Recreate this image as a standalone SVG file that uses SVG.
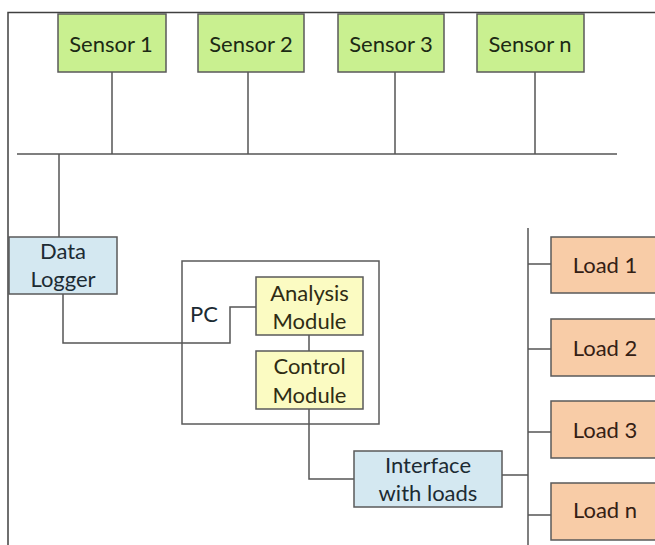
<svg xmlns="http://www.w3.org/2000/svg" width="655" height="545" viewBox="0 0 655 545">
<style>
  .box { stroke: #5a5a5a; stroke-width: 1.5; }
  .sensor { fill: #c9f090; }
  .blue { fill: #d4e8f1; }
  .yellow { fill: #fbfbc2; }
  .load { fill: #f8cca7; }
  .wire { fill: none; stroke: #555555; stroke-width: 1.5; }
  text { font-family: Lato, "Open Sans", "Liberation Sans", sans-serif; font-size: 22px; text-anchor: middle; }
  .tsensor { fill: #1c2a14; }
  .tblue { fill: #1c2b33; }
  .tyellow { fill: #2f2c14; }
  .tload { fill: #342014; }
</style>
<rect x="0" y="0" width="655" height="545" fill="#ffffff"/>
<rect id="frame" x="8" y="12.5" width="660" height="545" fill="none" stroke="#404040" stroke-width="1.5"/>

<g id="connectors" class="wire">
  <line x1="17" y1="154" x2="617" y2="154"/>
  <line x1="112" y1="72" x2="112" y2="154"/>
  <line x1="248" y1="72" x2="248" y2="154"/>
  <line x1="395" y1="72" x2="395" y2="154"/>
  <line x1="535" y1="72" x2="535" y2="154"/>
  <line x1="59" y1="154" x2="59" y2="237"/>
  <polyline points="63,294 63,343 230,343 230,307 256,307"/>
  <line x1="309" y1="335" x2="309" y2="351"/>
  <polyline points="309,409 309,479 354,479"/>
  <line x1="502" y1="475" x2="528" y2="475"/>
  <line x1="528" y1="228" x2="528" y2="545"/>
  <line x1="528" y1="264" x2="551" y2="264"/>
  <line x1="528" y1="349" x2="551" y2="349"/>
  <line x1="528" y1="432" x2="551" y2="432"/>
  <line x1="528" y1="515" x2="551" y2="515"/>
</g>

<g id="sensor1">
  <rect class="box sensor" x="58" y="14" width="108" height="58"/>
  <text class="tsensor" x="111" y="52">Sensor 1</text>
</g>
<g id="sensor2">
  <rect class="box sensor" x="198" y="14" width="106" height="58"/>
  <text class="tsensor" x="251" y="52">Sensor 2</text>
</g>
<g id="sensor3">
  <rect class="box sensor" x="338" y="14" width="106" height="58"/>
  <text class="tsensor" x="391" y="52">Sensor 3</text>
</g>
<g id="sensorn">
  <rect class="box sensor" x="477" y="14" width="107" height="58"/>
  <text class="tsensor" x="530" y="52">Sensor n</text>
</g>

<g id="datalogger">
  <rect class="box blue" x="9" y="237" width="108" height="57"/>
  <text class="tblue" x="63" y="259">Data</text>
  <text class="tblue" x="63" y="287">Logger</text>
</g>

<g id="pc">
  <rect class="box" fill="none" x="182" y="261" width="197" height="163"/>
  <text class="tblue" x="204" y="322">PC</text>
</g>

<g id="analysis">
  <rect class="box yellow" x="256" y="277" width="107" height="58"/>
  <text class="tyellow" x="309.5" y="301">Analysis</text>
  <text class="tyellow" x="309.5" y="329">Module</text>
</g>

<g id="control">
  <rect class="box yellow" x="256" y="351" width="107" height="58"/>
  <text class="tyellow" x="309.5" y="374">Control</text>
  <text class="tyellow" x="309.5" y="403">Module</text>
</g>

<g id="interface">
  <rect class="box blue" x="354" y="451" width="148" height="56"/>
  <text class="tblue" x="428" y="473">Interface</text>
  <text class="tblue" x="428" y="501">with loads</text>
</g>

<g id="load1">
  <rect class="box load" x="551" y="237" width="110" height="56"/>
  <text class="tload" x="605" y="273">Load 1</text>
</g>
<g id="load2">
  <rect class="box load" x="551" y="319" width="110" height="57"/>
  <text class="tload" x="605" y="356">Load 2</text>
</g>
<g id="load3">
  <rect class="box load" x="551" y="401" width="110" height="57"/>
  <text class="tload" x="605" y="438">Load 3</text>
</g>
<g id="loadn">
  <rect class="box load" x="551" y="483" width="110" height="57"/>
  <text class="tload" x="605" y="518">Load n</text>
</g>
</svg>
